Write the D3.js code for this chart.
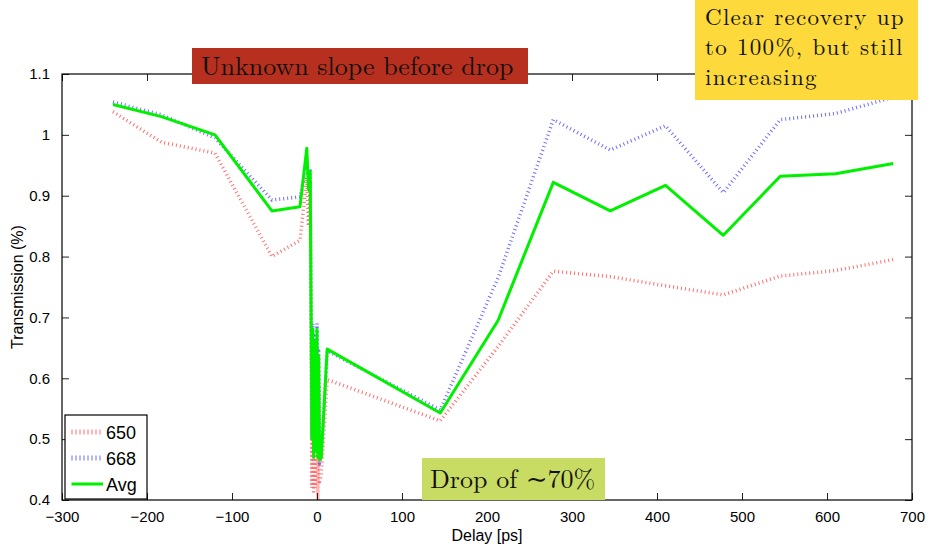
<!DOCTYPE html>
<html>
<head>
<meta charset="utf-8">
<script src="https://cdn.jsdelivr.net/npm/d3@7"></script>
<style>
  html, body { margin: 0; padding: 0; background: #fff; }
  svg { display: block; }
</style>
</head>
<body>
<svg id="chart" width="930" height="550"></svg>
<script>
// Delay positions (ps) shared by all three traces
const delays = [-240, -183, -120, -53, -20, -12, -10, -8, -6, -5, -4, -3, -2, 0, 1, 2, 3, 5, 12, 145, 213, 278, 345, 410, 478, 545, 610, 678];

// Transmission at 650 nm
const t650 = [1.038, 0.988, 0.970, 0.800, 0.827, 0.930, 0.850, 0.920, 0.420, 0.620, 0.410, 0.600, 0.420, 0.620, 0.400, 0.590, 0.430, 0.440, 0.598, 0.530, 0.652, 0.776, 0.767, 0.752, 0.737, 0.768, 0.777, 0.795];

// Transmission at 668 nm
const t668 = [1.054, 1.033, 0.995, 0.893, 0.898, 0.950, 0.930, 0.945, 0.500, 0.690, 0.480, 0.670, 0.490, 0.690, 0.480, 0.645, 0.460, 0.475, 0.645, 0.548, 0.765, 1.025, 0.975, 1.015, 0.905, 1.025, 1.035, 1.062];

// Average of the two wavelengths
const tAvg = [1.050, 1.030, 1.000, 0.875, 0.882, 0.978, 0.910, 0.940, 0.500, 0.680, 0.470, 0.660, 0.480, 0.680, 0.470, 0.636, 0.466, 0.470, 0.648, 0.543, 0.695, 0.922, 0.875, 0.917, 0.835, 0.932, 0.936, 0.953];

const xTicks = [-300, -200, -100, 0, 100, 200, 300, 400, 500, 600, 700];
const yTicks = [0.4, 0.5, 0.6, 0.7, 0.8, 0.9, 1.0, 1.1];

const series = [
  { name: "650", values: t650, color: "#ff4a4a", width: 3.5, dash: "1 3" },
  { name: "668", values: t668, color: "#4a4aff", width: 3.5, dash: "1 3" },
  { name: "Avg", values: tAvg, color: "#00f000", width: 3, dash: null }
];

const svg = d3.select("#chart");
const pL = 62, pR = 912, pT = 74, pB = 500;

const x = d3.scaleLinear().domain([-300, 700]).range([pL, pR]);
const y = d3.scaleLinear().domain([0.4, 1.1]).range([pB, pT]);

const axisFont = "'Liberation Sans', Arial, Helvetica, sans-serif";

// Plot clip
svg.append("defs").append("clipPath").attr("id", "plotclip")
  .append("rect").attr("x", pL).attr("y", pT).attr("width", pR - pL).attr("height", pB - pT);

// Traces
const line = d3.line().x(d => x(d[0])).y(d => y(d[1]));
const g = svg.append("g").attr("clip-path", "url(#plotclip)");
series.forEach(s => {
  const pts = delays.map((d, i) => [d, s.values[i]]);
  g.append("path")
    .attr("d", line(pts))
    .attr("fill", "none")
    .attr("stroke", s.color)
    .attr("stroke-opacity", s.dash ? 0.8 : 1)
    .attr("stroke-width", s.width)
    .attr("stroke-dasharray", s.dash)
    .attr("stroke-linejoin", "round");
});

// Axes with inward ticks on all four sides
const tickLen = 7;
const axB = d3.axisBottom(x).tickValues(xTicks).tickSize(-tickLen).tickPadding(tickLen + 4)
  .tickFormat(d => d < 0 ? "\u2212" + Math.abs(d) : d);
const axT = d3.axisTop(x).tickValues(xTicks).tickSize(-tickLen).tickFormat("");
const axL = d3.axisLeft(y).tickValues(yTicks).tickSize(-tickLen).tickPadding(tickLen + 5)
  .tickFormat(d => d === 1 ? "1" : d3.format(".1f")(d));
const axR = d3.axisRight(y).tickValues(yTicks).tickSize(-tickLen).tickFormat("");

function styleAxis(sel) {
  sel.select(".domain").remove();
  sel.selectAll(".tick line").attr("stroke", "#222").attr("stroke-width", 1);
  sel.selectAll("text").attr("font-family", axisFont).attr("font-size", 15).attr("fill", "#000");
}
svg.append("g").attr("transform", `translate(0,${pB})`).call(axB).call(styleAxis);
svg.append("g").attr("transform", `translate(0,${pT})`).call(axT).call(styleAxis);
svg.append("g").attr("transform", `translate(${pL},0)`).call(axL).call(styleAxis);
svg.append("g").attr("transform", `translate(${pR},0)`).call(axR).call(styleAxis);

// Frame
svg.append("rect").attr("x", pL).attr("y", pT).attr("width", pR - pL).attr("height", pB - pT)
  .attr("fill", "none").attr("stroke", "#000").attr("stroke-width", 1.2);

// Axis titles
svg.append("text").attr("x", (pL + pR) / 2).attr("y", 541)
  .attr("text-anchor", "middle").attr("font-family", axisFont).attr("font-size", 16)
  .text("Delay [ps]");
svg.append("text").attr("transform", `translate(23,${(pT + pB) / 2}) rotate(-90)`)
  .attr("text-anchor", "middle").attr("font-family", axisFont).attr("font-size", 16)
  .text("Transmission (%)");

// Legend
const lg = svg.append("g");
lg.append("rect").attr("x", 65).attr("y", 415).attr("width", 82).attr("height", 84)
  .attr("fill", "#fff").attr("stroke", "#000").attr("stroke-width", 1.2);
series.forEach((s, i) => {
  const cy = 432 + i * 26;
  lg.append("path").attr("d", `M71.5,${cy}H103`)
    .attr("fill", "none")
    .attr("stroke", s.color).attr("stroke-opacity", s.dash ? 0.8 : 1)
    .attr("stroke-width", s.dash ? 5 : s.width).attr("stroke-dasharray", s.dash);
  lg.append("text").attr("x", 106).attr("y", cy + 6.5)
    .attr("font-family", axisFont).attr("font-size", 18).text(s.name);
});

// Annotation boxes
const serif = "'Latin Modern Roman', 'CMU Serif', 'Liberation Serif', 'DejaVu Serif', serif";
function note(x0, y0, w, h, fill, lines, tx, ty, lh, fs, ls) {
  svg.append("rect").attr("x", x0).attr("y", y0).attr("width", w).attr("height", h).attr("fill", fill);
  lines.forEach((t, i) => {
    svg.append("text").attr("x", tx).attr("y", ty + i * lh)
      .attr("font-family", serif).attr("font-size", fs).attr("letter-spacing", ls)
      .attr("fill", "#111").text(t);
  });
}
note(192, 48, 336, 36, "#b72f1e", ["Unknown slope before drop"], 201, 75, 0, 26, 0);
note(695, 0, 223, 100, "#fdd93b", ["Clear recovery up", "to 100%, but still", "increasing"], 705, 25, 30, 23, 1.3);
note(422, 458, 183, 42, "#c8dc64", ["Drop of \u223c70%"], 430, 488, 0, 26, 0);
</script>
</body>
</html>
